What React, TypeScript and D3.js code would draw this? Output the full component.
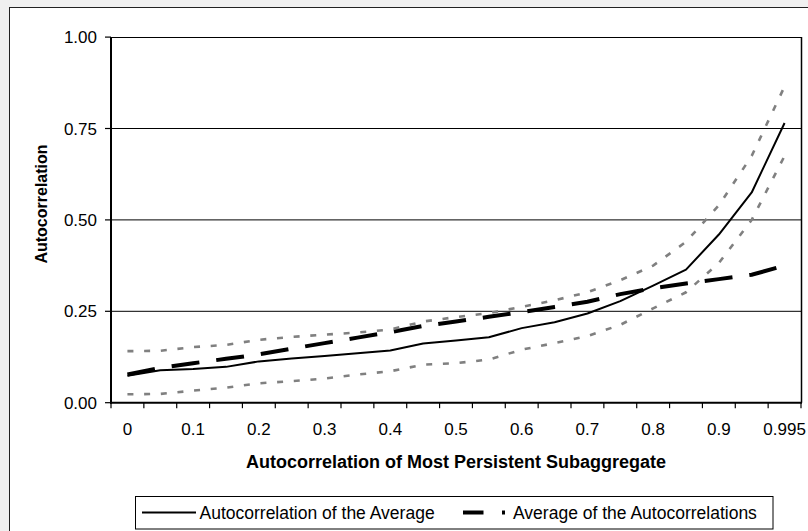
import React from "react";
import * as d3 from "d3";

const categories = ["0","0.05","0.1","0.15","0.2","0.25","0.3","0.35","0.4","0.45","0.5","0.55","0.6","0.65","0.7","0.75","0.8","0.85","0.9","0.95","0.995"];
const shownTickLabels = ["0","0.1","0.2","0.3","0.4","0.5","0.6","0.7","0.8","0.9","0.995"];
const yTicks = [0, 0.25, 0.5, 0.75, 1];

const autocorrOfAverage = [0.074,0.089,0.092,0.098,0.113,0.121,0.128,0.135,0.143,0.162,0.170,0.179,0.204,0.220,0.244,0.278,0.320,0.364,0.460,0.575,0.765];
const averageOfAutocorrs = [0.077,0.095,0.108,0.120,0.132,0.148,0.163,0.178,0.193,0.210,0.222,0.235,0.248,0.262,0.276,0.297,0.313,0.326,0.338,0.350,0.375];
const upperBand = [0.141,0.142,0.152,0.158,0.172,0.180,0.186,0.192,0.200,0.222,0.234,0.245,0.262,0.280,0.302,0.335,0.375,0.440,0.540,0.675,0.865];
const lowerBand = [0.023,0.024,0.033,0.041,0.053,0.059,0.066,0.077,0.086,0.104,0.108,0.118,0.145,0.163,0.182,0.213,0.258,0.302,0.382,0.500,0.675];

const legendLabels = ["Autocorrelation of the Average", "Average of the Autocorrelations"];
const xTitle = "Autocorrelation of Most Persistent Subaggregate";
const yTitle = "Autocorrelation";

const FONT = "'Liberation Sans', Arial, Helvetica, sans-serif";

export default function App() {
  const W = 808, H = 531;
  const left = 111, right = 801, top = 37.1, bottom = 402.7;
  const x = d3.scaleBand<string>().domain(categories).range([left, right]).padding(0);
  const bw = x.bandwidth();
  const cx = (c: string) => (x(c) as number) + bw / 2;
  const y = d3.scaleLinear().domain([0, 1]).range([bottom, top]);
  const line = d3.line<number>().x((_, i) => cx(categories[i])).y((v) => y(v)).curve(d3.curveLinear);
  const tickBounds = d3.range(categories.length + 1).map((i) => left + i * bw);

  return (
    <svg width={W} height={H} style={{ position: "absolute", left: 0, top: 0, display: "block" }} fontFamily={FONT}>
      <rect x={0} y={0} width={W} height={H} fill="#f0f0f0" />
      <rect x={9.5} y={7.5} width={820} height={540} fill="#ffffff" stroke="#222" strokeWidth={1} />
      {/* gridlines */}
      {yTicks.filter((t) => t > 0 && t < 1).map((t) => (
        <line key={t} x1={left} x2={right} y1={y(t)} y2={y(t)} stroke="#000" strokeWidth={1} />
      ))}
      {/* plot border top/right */}
      <line x1={left} x2={right} y1={Math.round(y(1)) + 0.5} y2={Math.round(y(1)) + 0.5} stroke="#000" strokeWidth={1} />
      <line x1={right + 0.5} x2={right + 0.5} y1={y(1)} y2={y(0)} stroke="#000" strokeWidth={1.5} />
      {/* y axis */}
      <line x1={left} x2={left} y1={y(1)} y2={y(0) + 1} stroke="#000" strokeWidth={2} />
      {yTicks.map((t) => (
        <g key={t}>
          <line x1={left - 6} x2={left} y1={y(t)} y2={y(t)} stroke="#000" strokeWidth={1.2} />
          <text x={97} y={y(t)} dy="0.36em" textAnchor="end" fontSize={17} fill="#000">{t.toFixed(2)}</text>
        </g>
      ))}
      {/* x axis */}
      <line x1={left - 1} x2={right + 1} y1={y(0)} y2={y(0)} stroke="#000" strokeWidth={2} />
      {tickBounds.map((b, i) => (
        <line key={i} x1={b} x2={b} y1={y(0)} y2={y(0) + 5.5} stroke="#000" strokeWidth={1.2} />
      ))}
      {categories.filter((c) => shownTickLabels.includes(c)).map((c) => (
        <text key={c} x={cx(c)} y={435} textAnchor="middle" fontSize={17} fill="#000">{c}</text>
      ))}
      {/* series */}
      <path d={line(averageOfAutocorrs) || ""} fill="none" stroke="#000" strokeWidth={4} strokeDasharray="28,17" />
      <path d={line(autocorrOfAverage) || ""} fill="none" stroke="#000" strokeWidth={2} strokeLinejoin="round" />
      <path d={line(lowerBand) || ""} fill="none" stroke="#808080" strokeWidth={2.6} strokeDasharray="6,10.7" />
      <path d={line(upperBand) || ""} fill="none" stroke="#808080" strokeWidth={2.6} strokeDasharray="6,10.7" />
      {/* titles */}
      <text x={(left + right) / 2} y={468} textAnchor="middle" fontSize={18} fontWeight="bold" fill="#000">{xTitle}</text>
      <text transform="translate(47,204) rotate(-90)" textAnchor="middle" fontSize={16} fontWeight="bold" fill="#000">{yTitle}</text>
      {/* legend */}
      <rect x={135.5} y={496.5} width={637.5} height={32.5} fill="#fff" stroke="#000" strokeWidth={1} />
      <line x1={142} x2={196} y1={512.5} y2={512.5} stroke="#000" strokeWidth={2} />
      <text x={199.5} y={518.5} fontSize={17.5} fill="#000">{legendLabels[0]}</text>
      <line x1={463} x2={505} y1={512.5} y2={512.5} stroke="#000" strokeWidth={4} strokeDasharray="20.5,18.5" />
      <text x={513} y={518.5} fontSize={17.5} fill="#000">{legendLabels[1]}</text>
    </svg>
  );
}
